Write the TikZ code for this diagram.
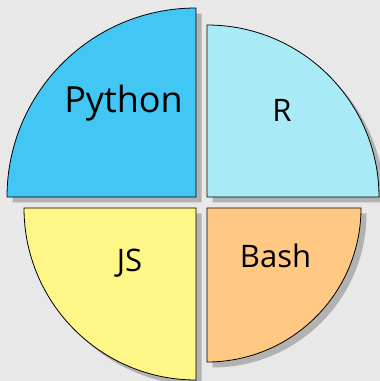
\documentclass[tikz,border=0pt]{standalone}
\usepackage{fontspec}
\setmainfont{Open Sans}
\definecolor{bgc}{HTML}{E8E8E8}
\definecolor{shc}{HTML}{B2B2B2}
\definecolor{cpy}{HTML}{42C6F3}
\definecolor{cr}{HTML}{A8EBF7}
\definecolor{cjs}{HTML}{FFF688}
\definecolor{cbash}{HTML}{FFC984}
\begin{document}
\begin{tikzpicture}[x=1pt,y=1pt,
  wedge/.style={draw=black,line width=0.8pt,line join=miter},
  shadowc/.style={fill=shc},
  lbl/.style={inner sep=0pt,anchor=base,text=black}]
\fill[bgc] (0,0) rectangle (380,381);
\useasboundingbox (0,0) rectangle (380,381);
% shadows
\begin{scope}[shift={(5.5,-5.5)}]
\fill[shadowc] (196,184) -- ++(-189,0) arc (180:90:189) -- cycle;
\fill[shadowc] (207,184) -- ++(0,172) arc (90:0:172) -- cycle;
\fill[shadowc] (196,173) -- ++(-172,0) arc (180:270:172) -- cycle;
\fill[shadowc] (207,173) -- ++(154,0) arc (0:-90:154) -- cycle;
\end{scope}
% wedges
\path[wedge,fill=cpy] (196,184) -- ++(-189,0) arc (180:90:189) -- cycle;
\path[wedge,fill=cr] (207,184) -- ++(0,172) arc (90:0:172) -- cycle;
\path[wedge,fill=cjs] (196,173) -- ++(-172,0) arc (180:270:172) -- cycle;
\path[wedge,fill=cbash] (207,173) -- ++(154,0) arc (0:-90:154) -- cycle;
% labels
\node[lbl,font=\fontsize{36}{42}\selectfont] (py) at (123.5,268) {Python};
\node[lbl,font=\fontsize{31}{37}\selectfont] (r) at (282,259) {R};
\node[lbl,font=\fontsize{31}{37}\selectfont] (js) at (129.5,109) {JS};
\node[lbl,font=\fontsize{31}{37}\selectfont] (bash) at (275.5,113) {Bash};
\end{tikzpicture}
\end{document}
